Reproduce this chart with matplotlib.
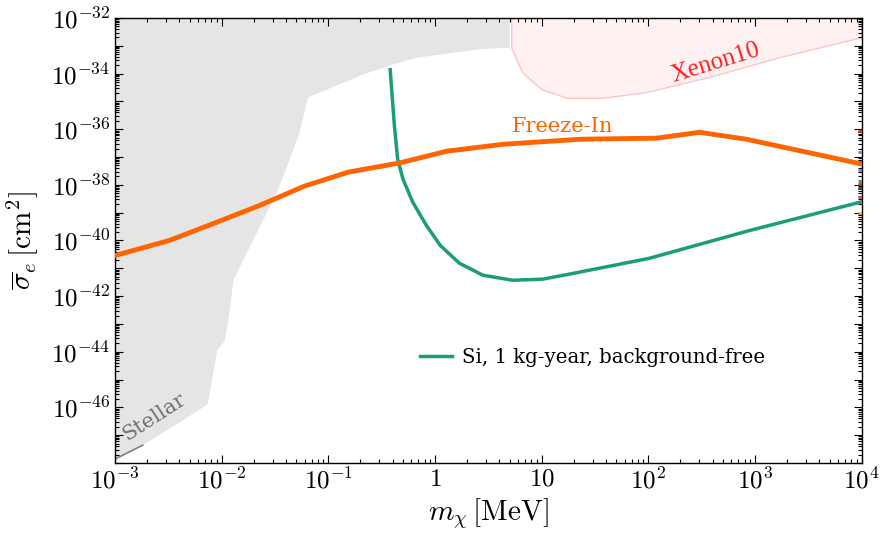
import numpy as np
import matplotlib
matplotlib.use("Agg")
from matplotlib import pyplot as plt
from matplotlib.ticker import LogLocator, NullFormatter, FixedLocator, FixedFormatter

plt.rcParams['mathtext.fontset'] = 'cm'
plt.rcParams['font.family'] = 'DejaVu Serif'

# log10 values
# Freeze-In curve
fi_logm = [-3.0, -2.49, -2.03, -1.65, -1.22, -0.81, -0.33, 0.11, 0.64, 1.36, 2.08, 2.48, 2.92, 4.0]
fi_logs = [-40.54, -40.0, -39.32, -38.75, -38.04, -37.54, -37.21, -36.79, -36.54, -36.36, -36.32, -36.11, -36.36, -37.25]

# Si, 1 kg-year, background-free
si_logm = [-0.42, -0.38, -0.35, -0.30, -0.21, -0.08, 0.05, 0.23, 0.45, 0.73, 1.01, 1.26, 2.01, 2.95, 4.0]
si_logs = [-33.86, -35.89, -37.07, -37.79, -38.61, -39.46, -40.18, -40.82, -41.25, -41.43, -41.39, -41.21, -40.64, -39.64, -38.61]

# grey excluded region (stellar + others)
grey_logm = [-3.0, 0.70, 0.70, 0.45, -0.17, -0.40, -0.68, -1.19, -1.27, -1.36, -1.48, -1.71, -1.89,
             -1.92, -1.97, -2.04, -2.13, -2.36, -2.74, -3.0]
grey_logs = [-32.0, -32.0, -33.07, -33.11, -33.43, -33.68, -34.04, -34.86, -36.11, -37.07, -38.25, -40.04, -41.43,
             -42.43, -43.61, -43.93, -45.89, -46.46, -47.36, -47.86]

# Xenon10 region
xe_logm = [0.72, 0.72, 0.82, 1.0, 1.24, 1.57, 1.99, 2.6, 3.23, 4.0, 4.0]
xe_logs = [-32.0, -33.07, -33.96, -34.57, -34.89, -34.89, -34.68, -34.11, -33.43, -32.71, -32.0]

# small coloured marks at right edge
edge_logs = [-36.07, -36.82, -37.46, -37.86, -37.96, -38.1, -38.43, -39.0]
edge_cols = ['#ff2020', '#8080c0', '#8080c0', '#40a020', '#ff2020', '#206020', '#e040a0', '#f0b020']

fig = plt.figure(figsize=(8.81, 5.40), dpi=100)
ax = fig.add_axes([0.1305, 0.1426, 0.8475, 0.8241])

ax.fill(10**np.array(grey_logm), 10**np.array(grey_logs), color='#e5e5e5', lw=0, zorder=1)
ax.plot(10**np.array([-3.0, -2.74]), 10**np.array([-47.86, -47.36]), color='#808080', lw=1.2, zorder=2)
ax.fill(10**np.array(xe_logm), 10**np.array(xe_logs), facecolor='#fff1f1', edgecolor='#ffc4c4', lw=1.0, zorder=1)

ax.plot(10**np.array(si_logm), 10**np.array(si_logs), color='#1b9e77', lw=2.5, zorder=3,
        label='Si, 1 kg-year, background-free')
ax.plot(10**np.array(fi_logm), 10**np.array(fi_logs), color='#ff6400', lw=3.5, zorder=4)

for s, c in zip(edge_logs, edge_cols):
    ax.plot([10**3.965, 10**4.0], [10**s, 10**s], color=c, lw=2.0, zorder=5, solid_capstyle='butt')

ax.text(10**1.2, 10**-35.89, 'Freeze-In', color='#ff6400', fontsize=15, ha='center', va='center')
ax.text(10**2.63, 10**-33.6, 'Xenon10', color='#ff2020', fontsize=18, ha='center', va='center',
        rotation=17, family='Liberation Serif')
ax.text(10**-2.635, 10**-46.36, 'Stellar', color='#707070', fontsize=15, ha='center', va='center', rotation=33)

ax.set_xscale('log')
ax.set_yscale('log')
ax.set_xlim(1e-3, 1e4)
ax.set_ylim(1e-48, 1e-32)

xt = [1e-3, 1e-2, 1e-1, 1, 10, 1e2, 1e3, 1e4]
xl = ['$10^{-3}$', '$10^{-2}$', '$10^{-1}$', '$1$', '$10$', '$10^{2}$', '$10^{3}$', '$10^{4}$']
ax.xaxis.set_major_locator(FixedLocator(xt))
ax.xaxis.set_major_formatter(FixedFormatter(xl))
yexp = list(range(-48, -31))
yt = [10.0**e for e in yexp]
yl = ['$10^{%d}$' % e if (e % 2 == 0 and e > -48) else '' for e in yexp]
ax.yaxis.set_major_locator(FixedLocator(yt))
ax.yaxis.set_major_formatter(FixedFormatter(yl))
ax.xaxis.set_minor_locator(LogLocator(base=10, subs=np.arange(2, 10), numticks=20))
ax.yaxis.set_minor_locator(LogLocator(base=10, subs=np.arange(2, 10), numticks=40))
ax.xaxis.set_minor_formatter(NullFormatter())
ax.yaxis.set_minor_formatter(NullFormatter())
ax.tick_params(which='both', direction='in', top=True, right=True, labelsize=18, width=0.8)
ax.tick_params(which='major', length=6)
ax.tick_params(which='minor', length=3)
for sp in ax.spines.values():
    sp.set_linewidth(1.0)

ax.set_xlabel(r'$m_\chi\,[\mathrm{MeV}]$', fontsize=21, labelpad=2)
ax.set_ylabel(r'$\overline{\sigma}_e\,[\mathrm{cm}^2]$', fontsize=21, labelpad=8)

ax.legend(loc='center left', bbox_to_anchor=(0.385, 0.237), frameon=False, fontsize=14.2, handlelength=1.6,
          handletextpad=0.5)

fig.savefig('out.png', dpi=100)
